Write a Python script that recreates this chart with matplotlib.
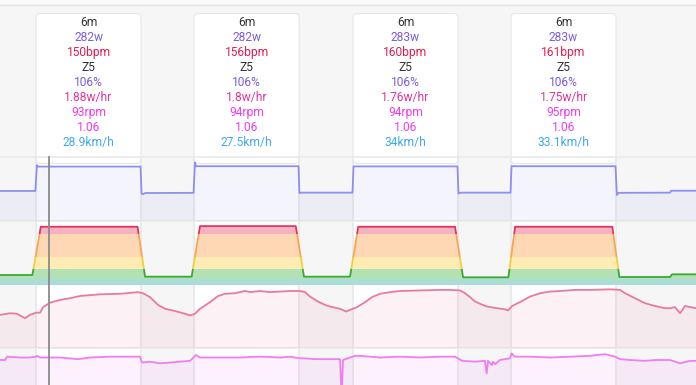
import numpy as np
import matplotlib
matplotlib.use('Agg')
import matplotlib.pyplot as plt
from matplotlib.patches import FancyBboxPatch, Rectangle
from matplotlib.lines import Line2D

plt.rcParams['font.family'] = ['Roboto', 'DejaVu Sans']

# ---- interval summary (cards) ----
iv_start = [2.06, 11.09, 20.17, 29.2]   # minutes
iv_len = 6.0
durations = ['6m', '6m', '6m', '6m']
watts = [282, 282, 283, 283]
bpm = [150, 156, 160, 161]
zones = ['Z5', 'Z5', 'Z5', 'Z5']
pct = [106, 106, 106, 106]
w_hr = [1.88, 1.8, 1.76, 1.75]
rpm = [93, 94, 94, 95]
ratio = [1.06, 1.06, 1.06, 1.06]
speed = [28.9, 27.5, 34, 33.1]

# ---- power (W) ----
pw_t = [0.00, 2.02, 2.11, 2.17, 8.03, 8.09, 8.16, 8.30, 11.06, 11.14, 11.20, 17.06,
        17.11, 17.20, 20.14, 20.20, 26.14, 26.20, 26.30, 29.17, 29.23, 35.17, 35.25,
        35.35, 38.29, 38.34, 39.77]
pw_v = [157, 157, 292, 284, 284, 144, 140, 146, 147, 306, 286, 286,
        145, 148, 148, 285, 285, 143, 148, 148, 286, 286, 136,
        147, 148, 158, 158]

# ---- zone level (0-100 scale) ----
zone_bounds = [0, 9.4, 25, 44.2, 79.7, 100]
zn_t = [0.00, 1.85, 2.33, 7.86, 8.29, 10.95, 11.43, 16.90, 17.37, 20.00, 20.47,
        26.00, 26.46, 29.05, 29.43, 34.99, 35.39, 38.29, 38.40, 39.77]
zn_v = [15.6, 15.6, 91, 91, 13, 13, 92, 92, 13, 13, 91,
        91, 12, 12, 91, 91, 12.5, 12.5, 16.7, 16.7]

# ---- heart rate (bpm) ----
hr_t = [0.00, 0.57, 0.97, 1.43, 1.71, 2.06, 2.29, 2.46, 2.86, 3.43, 4.00, 4.57, 5.71,
        6.86, 7.89, 8.17, 8.57, 9.03, 9.43, 10.00, 10.57, 10.86, 11.14, 11.43, 12.00,
        12.46, 12.86, 13.43, 14.00, 14.29, 14.86, 15.43, 16.00, 16.57, 17.14, 17.43,
        17.71, 18.17, 18.57, 18.86, 19.43, 19.77, 20.00, 20.40, 20.86, 21.26, 21.71,
        22.29, 22.86, 24.00, 25.14, 25.71, 26.29, 26.57, 26.86, 27.14, 27.43, 27.83,
        28.40, 28.86, 29.03, 29.26, 29.71, 30.29, 30.86, 31.43, 32.00, 32.86, 33.71,
        34.86, 35.43, 35.71, 36.29, 36.86, 37.43, 38.00, 38.29, 38.57, 38.86, 39.14, 39.77]
hr_v = [118, 121, 120, 112, 118, 122, 122, 132, 140, 145, 148, 152, 155,
        156, 159, 157, 150, 136, 129, 125, 120, 117, 120, 129, 141,
        152, 156, 157, 161, 159, 161, 159, 160, 161, 161, 159,
        151, 142, 136, 133, 129, 124, 127, 132, 141, 150, 156,
        159, 161, 162, 163, 163, 162, 157, 150, 142, 138, 133,
        130, 128, 126, 134, 141, 151, 157, 160, 161, 163, 163,
        164, 163, 157, 148, 139, 134, 130, 130, 132, 121, 134, 130]

# ---- cadence (rpm) ----
cad_t = [0.00, 0.29, 0.40, 1.14, 1.71, 2.06, 2.11, 2.29, 3.43, 4.46, 5.14, 6.29, 8.00,
         8.11, 8.57, 9.14, 9.71, 10.29, 10.86, 11.20, 11.43, 12.57, 13.71, 14.86, 16.00,
         16.57, 17.14, 17.43, 18.00, 18.86, 19.43, 19.49, 19.54, 19.60, 20.00, 20.29,
         20.57, 21.71, 22.86, 24.00, 25.14, 26.00, 26.17, 26.40, 27.14, 27.71, 27.81,
         27.89, 28.11, 28.17, 28.29, 28.57, 29.14, 29.23, 29.43, 30.29, 31.43, 32.57,
         33.71, 34.57, 35.14, 35.43, 36.00, 36.86, 37.43, 38.29, 38.86, 39.43, 39.77]
cad_v = [90, 90, 94, 93, 93, 94, 95, 93, 93, 91, 93, 94, 94,
         87, 88, 86, 87, 88, 89, 96, 93, 93, 93, 94, 93,
         94, 92, 92, 91, 91, 91, 58, 58, 90, 93, 95,
         95, 93, 94, 93, 94, 94, 92, 89, 88, 89, 74,
         89, 84, 88, 85, 90, 92, 98, 94, 94, 93, 94,
         95, 97, 94, 91, 90, 89, 90, 90, 86, 89, 89]

W, H = 696, 385
x_max = 39.77
bg = '#f6f6f6'

fig = plt.figure(figsize=(W / 100, H / 100), dpi=100)
fig.patch.set_facecolor(bg)


def px_axes(top, bottom):
    ax = fig.add_axes([0, 1 - bottom / H, 1, (bottom - top) / H])
    ax.set_xlim(0, x_max)
    ax.axis('off')
    return ax


# background layer in pixel y units
back = fig.add_axes([0, 0, 1, 1])
back.set_xlim(0, x_max)
back.set_ylim(H, 0)
back.axis('off')
back.axhspan(0, 4, color='#fbfbfb', lw=0)
back.axhline(4.5, color='#e3e3e3', lw=1)
for s in iv_start:
    back.add_patch(Rectangle((s, 157), iv_len, H - 157, facecolor='white', lw=0))
    for xx in (s, s + iv_len):
        back.plot([xx, xx], [157, H], color='#e9e9e9', lw=1.3)
    card = FancyBboxPatch((s, 13.5), iv_len, 150, boxstyle='round,pad=0,rounding_size=0.25',
                          mutation_aspect=17.5, facecolor='white', edgecolor='#e6e6e6', lw=0.8)
    back.add_patch(card)
for yy in (157, 221, 348):
    back.axhline(yy, color='#ebebeb', lw=1.3)

# card texts
txt_cols = ['#333333', '#7a5cdc', '#e31c4f', '#333333', '#7a5cdc',
            '#e0349a', '#ee3bee', '#ee3bee', '#3fa9ec']
for i, s in enumerate(iv_start):
    rows = [durations[i], f'{watts[i]}w', f'{bpm[i]}bpm', zones[i], f'{pct[i]}%',
            f'{w_hr[i]:g}w/hr', f'{rpm[i]}rpm', f'{ratio[i]:g}', f'{speed[i]:g}km/h']
    for j, (r, c) in enumerate(zip(rows, txt_cols)):
        back.text(s + iv_len / 2, 22.7 + 15 * j, r, color=c, fontsize=8.64,
                  ha='center', va='center')

# power panel
ax_p = px_axes(157, 221)
ax_p.set_ylim(0, 334)
ax_p.fill_between(pw_t, 0, pw_v, color='#8c8cf0', alpha=0.09, lw=0)
ax_p.plot(pw_t, pw_v, color='#8f8ff0', lw=1.3)

# zone panel
ax_z = px_axes(221, 285)
ax_z.set_ylim(0, 100)
fill_cols = ['#a9ddd6', '#b2e2b4', '#feecb3', '#fed7b4', '#f4b3c3']
line_cols = ['#3aaa35', '#3aaa35', '#f7cc3c', '#f7a550', '#e3345d']
for k in range(5):
    lo, hi = zone_bounds[k], zone_bounds[k + 1]
    clip = Rectangle((0, lo), x_max, hi - lo, transform=ax_z.transData)
    f = ax_z.fill_between(zn_t, 0, zn_v, color=fill_cols[k], lw=0)
    f.set_clip_path(clip)
    ln, = ax_z.plot(zn_t, zn_v, color=line_cols[k], lw=1.3)
    ln.set_clip_path(clip)

# heart rate panel
ax_h = px_axes(285, 348)
ax_h.set_ylim(58.4, 171.8)
ax_h.fill_between(hr_t, 58.4, hr_v, color='#e9779b', alpha=0.1, lw=0)
ax_h.plot(hr_t, hr_v, color='#ea7a9e', lw=1.3)

# cadence panel
ax_c = px_axes(348, 385)
ax_c.set_ylim(60, 104.4)
ax_c.fill_between(cad_t, 40, cad_v, color='#f07af0', alpha=0.1, lw=0)
ax_c.plot(cad_t, cad_v, color='#f27cf2', lw=1.3)

# cursor
cursor = Line2D([49 / W, 49 / W], [0, 1 - 157 / H], transform=fig.transFigure,
                color='#8a8a8a', lw=1.3, zorder=10)
fig.add_artist(cursor)

fig.savefig('out.png', dpi=100, facecolor=fig.get_facecolor())
